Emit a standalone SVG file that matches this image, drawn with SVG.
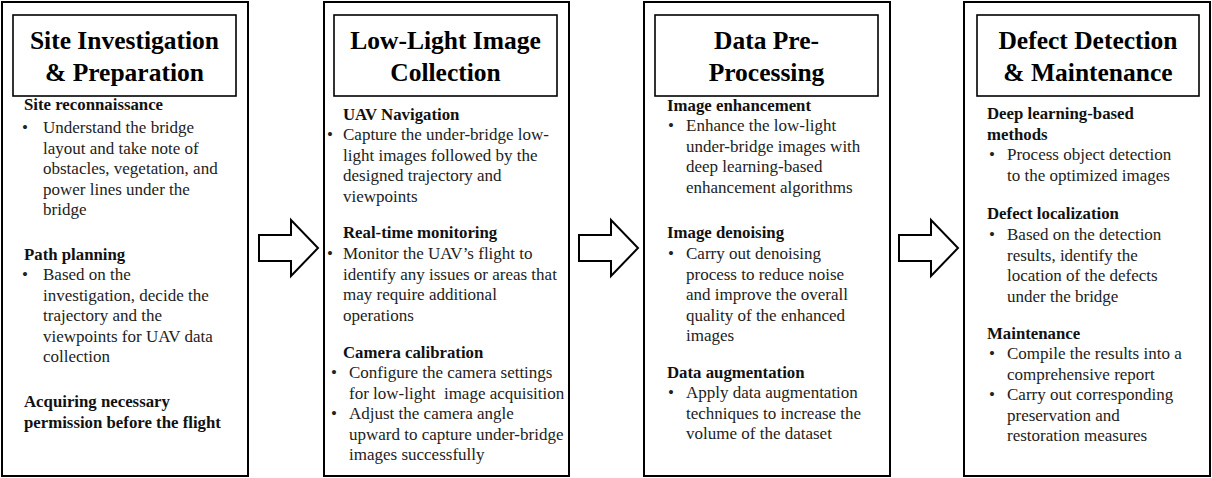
<svg xmlns="http://www.w3.org/2000/svg" width="1212" height="478" viewBox="0 0 1212 478">
<style>
.outer{fill:#fff;stroke:#000;stroke-width:2}
.tbox{fill:#fff;stroke:#000;stroke-width:1.6}
.title{font-family:"Liberation Serif","Times New Roman",serif;font-weight:bold;font-size:25.5px;fill:#000;text-anchor:middle}
.head{font-family:"Liberation Serif","Times New Roman",serif;font-weight:bold;font-size:16.8px;fill:#111}
.body{font-family:"Liberation Serif","Times New Roman",serif;font-size:17px;fill:#222}
.arrow{fill:#fff;stroke:#000;stroke-width:2;stroke-linejoin:miter}
</style>
<rect width="1212" height="478" fill="#fff"/>
<g id="connectors">
<polygon class="arrow" points="259,235 291,235 291,220 318,248 291,276 291,261 259,261"/>
<polygon class="arrow" points="579,235 611,235 611,220 638,248 611,276 611,261 579,261"/>
<polygon class="arrow" points="899,235 931,235 931,220 958,248 931,276 931,261 899,261"/>
</g>
<g id="node1">
<rect class="outer" x="2" y="2" width="246" height="474"/>
<rect class="tbox" x="13" y="15" width="223" height="81"/>
<text class="title" x="124.5" y="49">Site Investigation</text>
<text class="title" x="124.5" y="81">&amp; Preparation</text>
<text class="head" x="24" y="110">Site reconnaissance</text>
<text class="body" x="22" y="133">•</text>
<text class="body"><tspan x="43" y="133">Understand the bridge</tspan><tspan x="43" y="153.5">layout and take note of</tspan><tspan x="43" y="174">obstacles, vegetation, and</tspan><tspan x="43" y="194.5">power lines under the</tspan><tspan x="43" y="215">bridge</tspan></text>
<text class="head" x="24" y="260">Path planning</text>
<text class="body" x="22" y="280">•</text>
<text class="body"><tspan x="43" y="280">Based on the</tspan><tspan x="43" y="300.5">investigation, decide the</tspan><tspan x="43" y="321">trajectory and the</tspan><tspan x="43" y="341.5">viewpoints for UAV data</tspan><tspan x="43" y="362">collection</tspan></text>
<text class="head"><tspan x="24" y="407">Acquiring necessary</tspan><tspan x="24" y="428">permission before the flight</tspan></text>
</g>
<g id="node2">
<rect class="outer" x="324" y="2" width="245" height="474"/>
<rect class="tbox" x="334" y="15" width="223" height="81"/>
<text class="title" x="445.5" y="49">Low-Light Image</text>
<text class="title" x="445.5" y="81">Collection</text>
<text class="head" x="343" y="120">UAV Navigation</text>
<text class="body" x="327" y="140">•</text>
<text class="body"><tspan x="343" y="140">Capture the under-bridge low-</tspan><tspan x="343" y="160.5">light images followed by the</tspan><tspan x="343" y="181">designed trajectory and</tspan><tspan x="343" y="201.5">viewpoints</tspan></text>
<text class="head" x="343" y="238">Real-time monitoring</text>
<text class="body" x="327" y="259">•</text>
<text class="body"><tspan x="343" y="259">Monitor the UAV’s flight to</tspan><tspan x="343" y="279.5">identify any issues or areas that</tspan><tspan x="343" y="300">may require additional</tspan><tspan x="343" y="320.5">operations</tspan></text>
<text class="head" x="343" y="358">Camera calibration</text>
<text class="body" x="331" y="378">•</text>
<text class="body" style="white-space:pre"><tspan x="349" y="378">Configure the camera settings</tspan><tspan x="349" y="398.5">for low-light  image acquisition</tspan></text>
<text class="body" x="331" y="419">•</text>
<text class="body"><tspan x="349" y="419">Adjust the camera angle</tspan><tspan x="349" y="439.5">upward to capture under-bridge</tspan><tspan x="349" y="460">images successfully</tspan></text>
</g>
<g id="node3">
<rect class="outer" x="644" y="2" width="246" height="474"/>
<rect class="tbox" x="655" y="15" width="223" height="81"/>
<text class="title" x="766.5" y="49">Data Pre-</text>
<text class="title" x="766.5" y="81">Processing</text>
<text class="head" x="667" y="111">Image enhancement</text>
<text class="body" x="668" y="131">•</text>
<text class="body"><tspan x="686" y="131">Enhance the low-light</tspan><tspan x="686" y="151.5">under-bridge images with</tspan><tspan x="686" y="172">deep learning-based</tspan><tspan x="686" y="192.5">enhancement algorithms</tspan></text>
<text class="head" x="667" y="238">Image denoising</text>
<text class="body" x="668" y="259">•</text>
<text class="body"><tspan x="686" y="259">Carry out denoising</tspan><tspan x="686" y="279.5">process to reduce noise</tspan><tspan x="686" y="300">and improve the overall</tspan><tspan x="686" y="320.5">quality of the enhanced</tspan><tspan x="686" y="341">images</tspan></text>
<text class="head" x="667" y="378">Data augmentation</text>
<text class="body" x="668" y="398">•</text>
<text class="body"><tspan x="686" y="398">Apply data augmentation</tspan><tspan x="686" y="418.5">techniques to increase the</tspan><tspan x="686" y="439">volume of the dataset</tspan></text>
</g>
<g id="node4">
<rect class="outer" x="964" y="2" width="246" height="474"/>
<rect class="tbox" x="977" y="15" width="222" height="81"/>
<text class="title" x="1088" y="49">Defect Detection</text>
<text class="title" x="1088" y="81">&amp; Maintenance</text>
<text class="head"><tspan x="987" y="119">Deep learning-based</tspan><tspan x="987" y="140">methods</tspan></text>
<text class="body" x="989" y="160">•</text>
<text class="body"><tspan x="1007" y="160">Process object detection</tspan><tspan x="1007" y="180.5">to the optimized images</tspan></text>
<text class="head" x="987" y="219">Defect localization</text>
<text class="body" x="989" y="240">•</text>
<text class="body"><tspan x="1007" y="240">Based on the detection</tspan><tspan x="1007" y="260.5">results, identify the</tspan><tspan x="1007" y="281">location of the defects</tspan><tspan x="1007" y="301.5">under the bridge</tspan></text>
<text class="head" x="987" y="339">Maintenance</text>
<text class="body" x="989" y="359">•</text>
<text class="body"><tspan x="1007" y="359">Compile the results into a</tspan><tspan x="1007" y="379.5">comprehensive report</tspan></text>
<text class="body" x="989" y="400">•</text>
<text class="body"><tspan x="1007" y="400">Carry out corresponding</tspan><tspan x="1007" y="420.5">preservation and</tspan><tspan x="1007" y="441">restoration measures</tspan></text>
</g>
</svg>
